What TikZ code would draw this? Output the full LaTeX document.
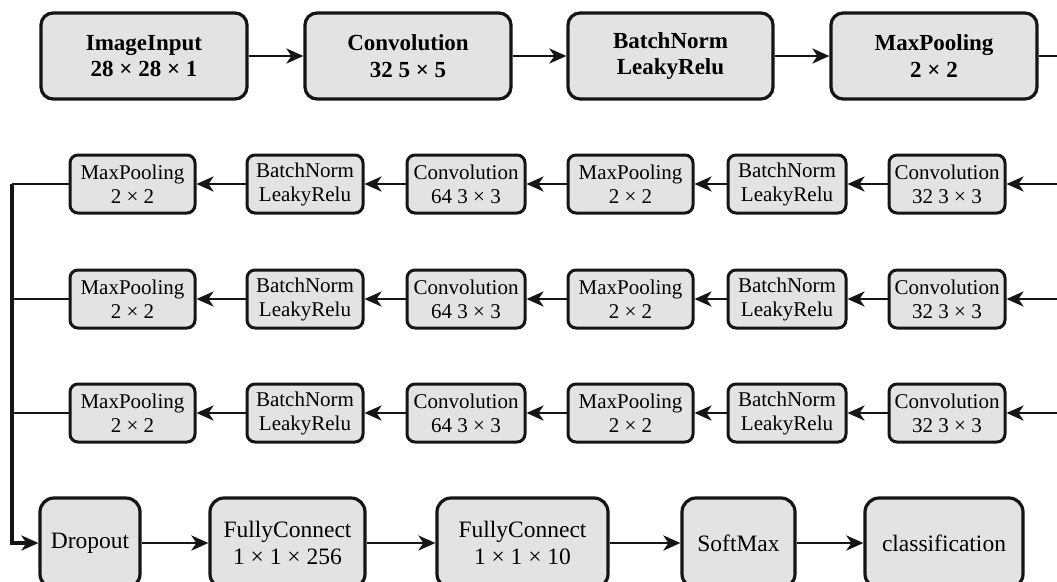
\documentclass[tikz,border=0pt]{standalone}
\usepackage{fontspec}
\setmainfont{Liberation Serif}
\usetikzlibrary{arrows.meta}
\definecolor{boxfill}{HTML}{E3E3E3}
\definecolor{ink}{HTML}{151515}
\tikzset{
  bigbox/.style={draw=ink, fill=boxfill, line width=3.2pt, rounded corners=12pt,
    minimum width=#1, minimum height=86pt, inner sep=0pt, align=center,
    font=\fontsize{23}{26.5}\selectfont\bfseries},
  smallbox/.style={draw=ink, fill=boxfill, line width=3pt, rounded corners=8pt,
    minimum width=#1, minimum height=58pt, inner sep=0pt, align=center,
    font=\fontsize{21}{24}\selectfont},
  lowbox/.style={draw=ink, fill=boxfill, line width=3.2pt, rounded corners=14pt,
    minimum width=#1, minimum height=90pt, inner sep=0pt, align=center,
    font=\fontsize{23.5}{26.5}\selectfont},
  conn/.style={draw=ink, line width=2.9pt},
  arr/.style={conn, -{Stealth[length=17pt,width=15pt,inset=5pt]}},
}
\begin{document}
\begin{tikzpicture}[x=1pt,y=-1pt]
\useasboundingbox (0,0) rectangle (1057,581);
\fill[white] (0,0) rectangle (1057,581);
\clip (0,0) rectangle (1057,581);
% top row
\node[bigbox=206pt] (inp) at (144,56) {ImageInput\\28 × 28 × 1};
\node[bigbox=206pt] (conv) at (408,56) {Convolution\\32 5 × 5};
\node[bigbox=205pt] (bn) at (670.5,56) {BatchNorm\\LeakyRelu};
\node[bigbox=206pt] (mp) at (934,56) {MaxPooling\\2 × 2};
\coordinate (rt) at (1065,56);
\draw[arr] (inp) -- (conv);
\draw[arr] (conv) -- (bn);
\draw[arr] (bn) -- (mp);
\draw[conn] (mp) -- (rt);
% middle rows
\foreach \r/\y in {a/184,b/299,c/413}{
  \node[smallbox=125pt] (mpl\r) at (132.5,\y) {MaxPooling\\2 × 2};
  \node[smallbox=116pt] (bnl\r) at (305,\y) {BatchNorm\\LeakyRelu};
  \node[smallbox=118pt] (cvl\r) at (466,\y) {Convolution\\64 3 × 3};
  \node[smallbox=125pt] (mpr\r) at (630.5,\y) {MaxPooling\\2 × 2};
  \node[smallbox=118pt] (bnr\r) at (787,\y) {BatchNorm\\LeakyRelu};
  \node[smallbox=116pt] (cvr\r) at (947,\y) {Convolution\\32 3 × 3};
  \coordinate (in\r) at (1065,\y);
  \coordinate (j\r) at (12,\y);
  \draw[arr] (in\r) -- (cvr\r);
  \draw[arr] (cvr\r) -- (bnr\r);
  \draw[arr] (bnr\r) -- (mpr\r);
  \draw[arr] (mpr\r) -- (cvl\r);
  \draw[arr] (cvl\r) -- (bnl\r);
  \draw[arr] (bnl\r) -- (mpl\r);
  \draw[conn] (mpl\r) -- (j\r);
}
% bottom row
\node[lowbox=100pt] (drop) at (90,543) {Dropout};
\node[lowbox=155pt] (fc1) at (287.5,543) {FullyConnect\\1 × 1 × 256};
\node[lowbox=171pt] (fc2) at (522.5,543) {FullyConnect\\1 × 1 × 10};
\node[lowbox=113pt] (sm) at (738.5,543) {SoftMax};
\node[lowbox=158pt] (cls) at (944,543) {classification};
\draw[arr, line width=3.4pt] (ja) |- (drop);
\draw[arr] (drop) -- (fc1);
\draw[arr] (fc1) -- (fc2);
\draw[arr] (fc2) -- (sm);
\draw[arr] (sm) -- (cls);
\end{tikzpicture}
\end{document}
